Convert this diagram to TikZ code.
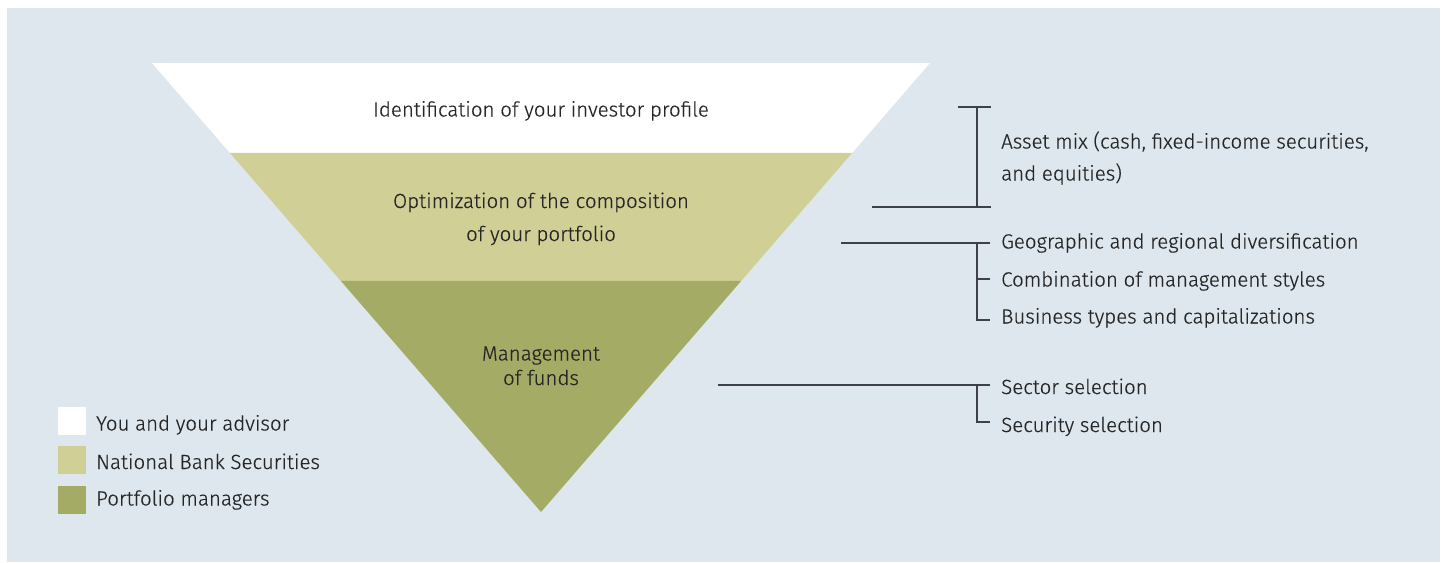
\documentclass[tikz,border=0pt]{standalone}
\usepackage{fontspec}
\setmainfont{Fira Sans Light}[FakeBold=0.4]
\usetikzlibrary{calc}
\definecolor{panel}{RGB}{221,231,237}
\definecolor{bandlight}{RGB}{208,207,150}
\definecolor{banddark}{RGB}{164,171,101}
\definecolor{ink}{RGB}{38,38,38}
\definecolor{rulecol}{RGB}{62,66,72}
\begin{document}
\begin{tikzpicture}[x=1pt,y=-1pt,
  txt/.style={font=\fontsize{20.5}{33}\selectfont, text=ink, inner sep=0pt},
  tight/.style={font=\fontsize{20.5}{24.5}\selectfont},
  item/.style={txt, anchor=base west},
  swatch/.style={minimum size=28pt, inner sep=0pt, anchor=north west},
  bracket/.style={draw=rulecol, line width=1.2pt}]
\useasboundingbox (0,0) rectangle (1445,562);
\fill[panel] (7,8) rectangle (1440,562);

% inverted pyramid, split in three bands
\coordinate (TL) at (152,63);
\coordinate (TR) at (930,63);
\coordinate (apex) at (541,512);
\coordinate (L1) at ($(TL)!0.2004!(apex)$);
\coordinate (R1) at ($(TR)!0.2004!(apex)$);
\coordinate (L2) at ($(TL)!0.4855!(apex)$);
\coordinate (R2) at ($(TR)!0.4855!(apex)$);
\fill[white] (TL) -- (TR) -- (R1) -- (L1) -- cycle;
\fill[bandlight] (L1) -- (R1) -- (R2) -- (L2) -- cycle;
\fill[banddark] (L2) -- (R2) -- (apex) -- cycle;

% band labels (base anchor sits on the last line)
\node[txt, anchor=base] (ident) at (541,116.5) {Identification of your investor profile};
\node[txt, anchor=base, align=center] (optim) at (541,241) {Optimization of the composition\\of your portfolio};
\node[txt, tight, anchor=base, align=center] (manage) at (541,385) {Management\\of funds};

% right-hand items
\node[item] (asset) at (1001,148.5) {Asset mix (cash, fixed-income securities,};
\node[item] (asset2) at (1001,180.5) {and equities)};
\node[item] (geo) at (1001,248.5) {Geographic and regional diversification};
\node[item] (comb) at (1001,286.5) {Combination of management styles};
\node[item] (bus) at (1001,323.5) {Business types and capitalizations};
\node[item] (sector) at (1001,394) {Sector selection};
\node[item] (secur) at (1001,432) {Security selection};

% bracket for the asset mix
\coordinate (a1) at (958,107);
\coordinate (a2) at (991,107);
\coordinate (a3) at (977,107);
\coordinate (a4) at (977,207);
\coordinate (a5) at (872,207);
\coordinate (a6) at (991,207);
\draw[bracket] (a1) -- (a2);
\draw[bracket] (a3) -- (a4);
\draw[bracket] (a5) -- (a6);

% bracket for the portfolio composition
\coordinate (g0) at (841,243);
\coordinate (g1) at (990,243);
\coordinate (g2) at (977,243);
\coordinate (g3) at (977,320);
\coordinate (g4) at (990,320);
\coordinate (g5) at (977,279);
\coordinate (g6) at (990,279);
\draw[bracket] (g0) -- (g1);
\draw[bracket] (g2) -- (g3) -- (g4);
\draw[bracket] (g5) -- (g6);

% bracket for fund management
\coordinate (s0) at (718,385);
\coordinate (s1) at (990,385);
\coordinate (s2) at (977,385);
\coordinate (s3) at (977,422);
\coordinate (s4) at (990,422);
\draw[bracket] (s0) -- (s1);
\draw[bracket] (s2) -- (s3) -- (s4);

% legend
\node[swatch, fill=white] (kw) at (58,407) {};
\node[swatch, fill=bandlight] (kl) at (58,446) {};
\node[swatch, fill=banddark] (kd) at (58,486) {};
\node[item] (kwt) at (96,430.5) {You and your advisor};
\node[item] (klt) at (96,469) {National Bank Securities};
\node[item] (kdt) at (96,505.5) {Portfolio managers};
\end{tikzpicture}
\end{document}
